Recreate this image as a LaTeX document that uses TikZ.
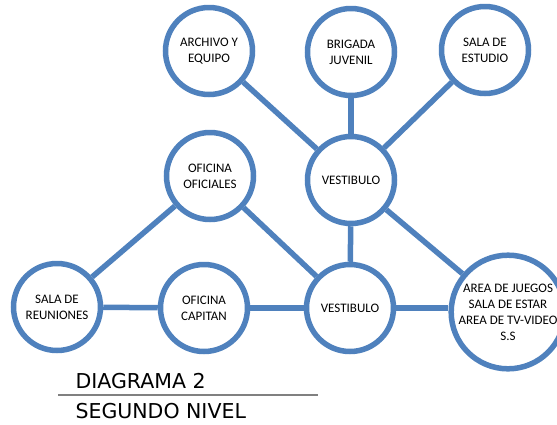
\documentclass[tikz,border=0pt]{standalone}
\usepackage{fontspec}
\setmainfont{Carlito}
\newfontfamily\titlefont{DejaVu Sans}
\usepackage{tikz}
\usetikzlibrary{calc,shapes}
\definecolor{azul}{RGB}{79,129,189}

\begin{document}
\begin{tikzpicture}[x=1pt,y=-1pt, sala/.style={circle, draw=azul, line width=5.5pt, fill=white, minimum size=87pt, inner sep=0pt, align=center, font=\fontsize{13}{16}\selectfont}, enlace/.style={draw=azul, line width=5.5pt}]

                \useasboundingbox (0,0) rectangle (557,424);

                \node[sala] (A) at (209,51) {ARCHIVO Y\\EQUIPO};
                \node[sala] (B) at (351,52) {BRIGADA\\JUVENIL};
                \node[sala] (C) at (485,50) {SALA DE\\ESTUDIO};
                \node[sala] (D) at (210,176) {OFICINA\\OFICIALES};
                \node[sala] (E) at (351,180) {VESTIBULO};
                \node[sala] (F) at (57,307) {SALA DE\\REUNIONES};
                \node[sala] (G) at (204,308) {OFICINA\\CAPITAN};
                \node[sala] (H) at (350,308) {VESTIBULO};
                \node[sala, minimum size=106pt] (J) at (508,312) {AREA DE JUEGOS\\SALA DE ESTAR\\AREA DE TV-VIDEO\\S.S};

                \draw[enlace] (A) -- (E);
                \draw[enlace] (B) -- (E);
                \draw[enlace] (C) -- (E);
                \draw[enlace] (E) -- (H);
                \draw[enlace] (E) -- (J);
                \draw[enlace] (D) -- (F);
                \draw[enlace] (D) -- (H);
                \draw[enlace] (F) -- (G);
                \draw[enlace] (G) -- (H);
                \draw[enlace] (H.east) -- (H.east -| J.west);

                \node[font=\titlefont\fontsize{20.5}{24}\selectfont, anchor=base west] (T1) at (72,388) {DIAGRAMA 2};
                \node[font=\titlefont\fontsize{20.5}{24}\selectfont, anchor=base west] (T2) at (72,418) {SEGUNDO NIVEL};
                \draw[gray, line width=1.2pt] (58,395) -- (318,395);

            \end{tikzpicture}
\end{document}
